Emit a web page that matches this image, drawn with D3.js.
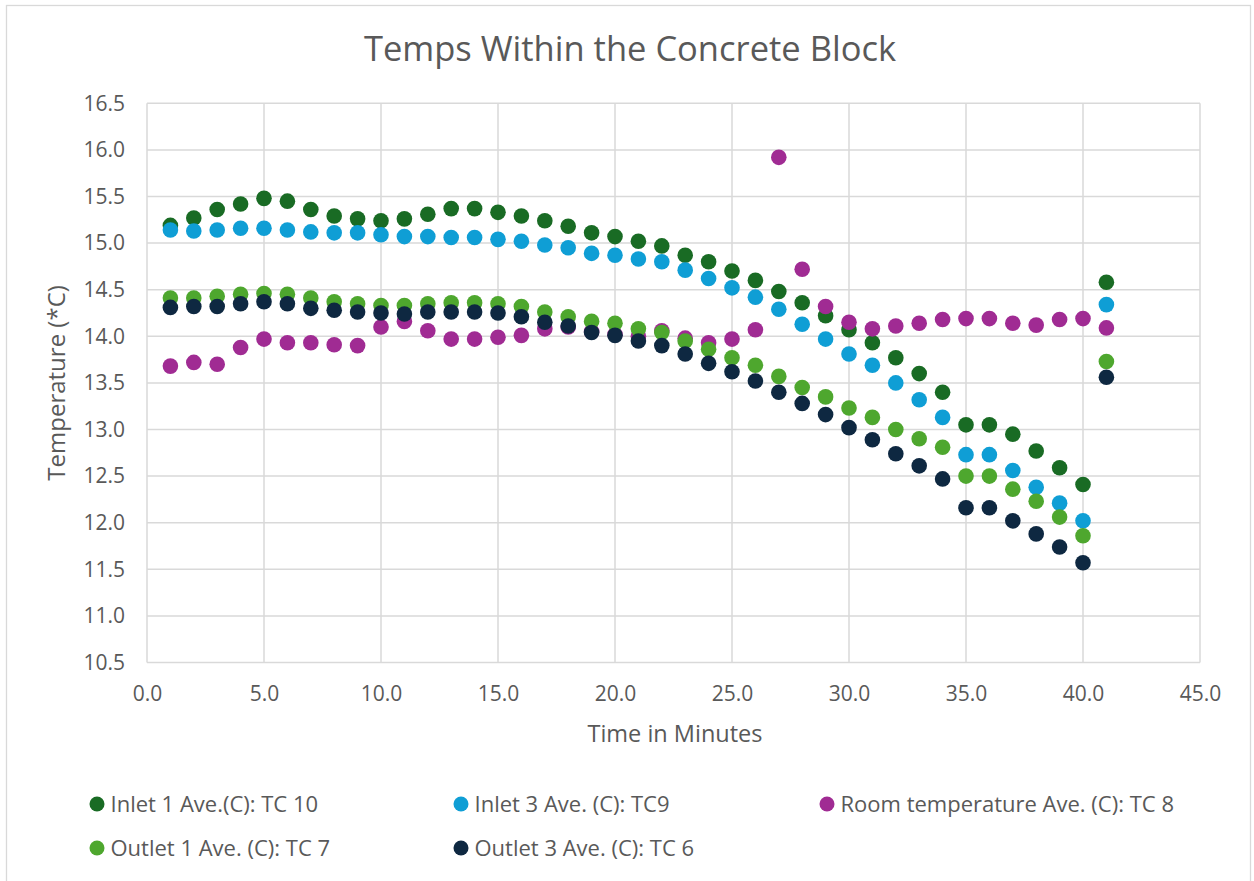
<!DOCTYPE html>
<html>
<head>
<meta charset="utf-8">
<script src="https://cdn.jsdelivr.net/npm/d3@7"></script>
<style>
  body { margin: 0; background: #fff; }
  text { font-family: "Open Sans", "Liberation Sans", sans-serif; fill: #595959; }
</style>
</head>
<body>
<svg width="1254" height="881"></svg>
<script>
    // minutes 1..41
    const minutes = d3.range(1, 42)
    const seriesNames = ['Inlet 1 Ave.(C): TC 10', 'Inlet 3 Ave. (C): TC9', 'Room temperature Ave. (C): TC 8', 'Outlet 1 Ave. (C): TC 7', 'Outlet 3 Ave. (C): TC 6']
    const seriesColors = ['#196B24', '#0F9ED5', '#A02B93', '#4EA72E', '#0E2841']
    const inlet1 = [15.19, 15.27, 15.36, 15.42, 15.48, 15.45, 15.36, 15.29, 15.26, 15.24, 15.26, 15.31, 15.37, 15.37, 15.33, 15.29, 15.24, 15.18, 15.11, 15.07, 15.02, 14.97, 14.87, 14.80, 14.70, 14.60, 14.48, 14.36, 14.22, 14.07, 13.93, 13.77, 13.60, 13.40, 13.05, 13.05, 12.95, 12.77, 12.59, 12.41, 14.58]
    const inlet3 = [15.14, 15.13, 15.14, 15.16, 15.16, 15.14, 15.12, 15.11, 15.11, 15.09, 15.07, 15.07, 15.06, 15.06, 15.04, 15.02, 14.98, 14.95, 14.89, 14.87, 14.83, 14.80, 14.71, 14.62, 14.52, 14.42, 14.29, 14.13, 13.97, 13.81, 13.69, 13.50, 13.32, 13.13, 12.73, 12.73, 12.56, 12.38, 12.21, 12.02, 14.34]
    const room = [13.68, 13.72, 13.70, 13.88, 13.97, 13.93, 13.93, 13.91, 13.90, 14.10, 14.16, 14.06, 13.97, 13.97, 13.99, 14.01, 14.08, 14.10, 14.05, 14.02, 14.00, 14.06, 13.98, 13.93, 13.97, 14.07, 15.92, 14.72, 14.32, 14.15, 14.08, 14.11, 14.14, 14.18, 14.19, 14.19, 14.14, 14.12, 14.18, 14.19, 14.09]
    const outlet1 = [14.41, 14.41, 14.43, 14.45, 14.46, 14.45, 14.41, 14.37, 14.35, 14.33, 14.33, 14.35, 14.36, 14.36, 14.35, 14.32, 14.26, 14.21, 14.16, 14.14, 14.08, 14.04, 13.95, 13.86, 13.77, 13.69, 13.57, 13.45, 13.35, 13.23, 13.13, 13.00, 12.90, 12.81, 12.50, 12.50, 12.36, 12.23, 12.06, 11.86, 13.73]
    const outlet3 = [14.31, 14.32, 14.32, 14.35, 14.37, 14.35, 14.30, 14.28, 14.26, 14.25, 14.24, 14.26, 14.26, 14.26, 14.25, 14.21, 14.15, 14.11, 14.04, 14.01, 13.95, 13.90, 13.81, 13.71, 13.62, 13.52, 13.40, 13.28, 13.16, 13.02, 12.89, 12.74, 12.61, 12.47, 12.16, 12.16, 12.02, 11.88, 11.74, 11.57, 13.56]
    const xTicks = [0, 5, 10, 15, 20, 25, 30, 35, 40, 45]
    const yTicks = [10.5, 11, 11.5, 12, 12.5, 13, 13.5, 14, 14.5, 15, 15.5, 16, 16.5]

    const allSeries = [inlet1, inlet3, room, outlet1, outlet3]

    const svg = d3.select('svg')
    const xs = d3.scaleLinear().domain([0, 45]).range([147, 1200])
    const ys = d3.scaleLinear().domain([10.5, 16.5]).range([662.5, 103.3])

    // chart border
    svg.append('rect').attr('x', 6.5).attr('y', 5.5).attr('width', 1244).attr('height', 880)
      .attr('fill', 'none').attr('stroke', '#d9d9d9').attr('stroke-width', 1.3)

    // gridlines
    svg.append('g').selectAll('line').data(yTicks).enter().append('line')
      .attr('x1', xs(0)).attr('x2', xs(45))
      .attr('y1', d => ys(d)).attr('y2', d => ys(d))
      .attr('stroke', '#d9d9d9').attr('stroke-width', 1.5)
    svg.append('g').selectAll('line').data(xTicks).enter().append('line')
      .attr('y1', ys(10.5)).attr('y2', ys(16.5))
      .attr('x1', d => xs(d)).attr('x2', d => xs(d))
      .attr('stroke', '#d9d9d9').attr('stroke-width', 1.5)

    // axes (labels only)
    const xAxis = svg.append('g').attr('transform', 'translate(0,' + ys(10.5) + ')')
      .call(d3.axisBottom(xs).tickValues(xTicks).tickFormat(d3.format('.1f')).tickSize(0).tickPadding(24))
    const yAxis = svg.append('g').attr('transform', 'translate(' + xs(0) + ',0)')
      .call(d3.axisLeft(ys).tickValues(yTicks).tickFormat(d3.format('.1f')).tickSize(0).tickPadding(22))
    xAxis.select('.domain').remove()
    yAxis.select('.domain').remove()
    svg.selectAll('.tick text').attr('font-size', 21).attr('fill', '#595959')
      .style('font-family', '"Open Sans", "Liberation Sans", sans-serif')

    // title + axis titles
    svg.append('text').attr('x', 630).attr('y', 61).attr('text-anchor', 'middle')
      .attr('font-size', 34.5).text('Temps Within the Concrete Block')
    svg.append('text').attr('x', 675).attr('y', 742).attr('text-anchor', 'middle')
      .attr('font-size', 23.5).text('Time in Minutes')
    svg.append('text').attr('transform', 'translate(65,' + ys(13.5) + ') rotate(-90)')
      .attr('text-anchor', 'middle').attr('font-size', 24).text('Temperature (*C)')

    // points
    allSeries.forEach(function(vals, si) {
      svg.append('g').selectAll('circle').data(vals).enter().append('circle')
        .attr('cx', function(d, i) { return xs(minutes[i]) })
        .attr('cy', function(d) { return ys(d) })
        .attr('r', 7.8)
        .attr('fill', seriesColors[si])
    })

    // legend
    const legPos = [[97, 804], [461, 804], [827, 804], [97, 848], [461, 848]]
    const leg = svg.append('g').selectAll('g').data(seriesNames).enter().append('g')
      .attr('transform', function(d, i) { return 'translate(' + legPos[i][0] + ',' + legPos[i][1] + ')' })
    leg.append('circle').attr('r', 7.5).attr('fill', function(d, i) { return seriesColors[i] })
    leg.append('text').attr('x', 13.5).attr('y', 8).attr('font-size', 22).text(d => d)
</script>
</body>
</html>
